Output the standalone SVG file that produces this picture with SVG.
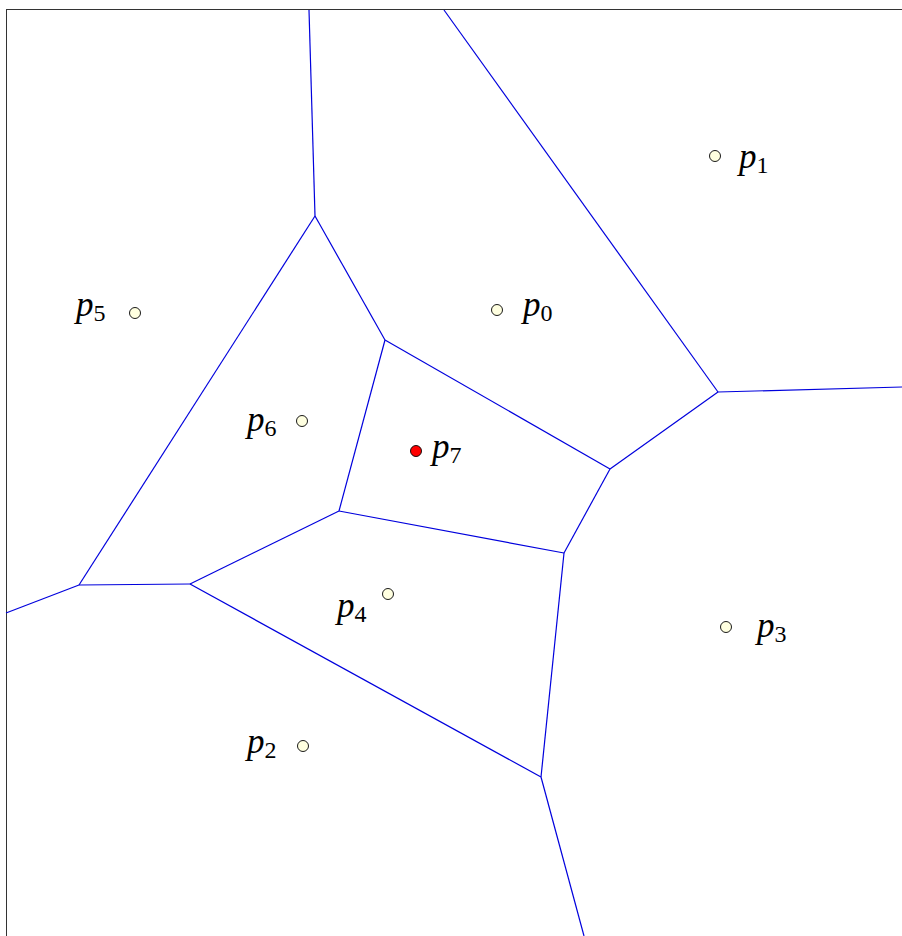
<svg xmlns="http://www.w3.org/2000/svg" width="902" height="936" viewBox="0 0 902 936">
<style>
.edge{stroke:#0000dd;stroke-width:1.2;fill:none}
.pt{fill:#ffffe0;stroke:#000;stroke-width:0.9}
.lbl{font-family:"Liberation Serif","DejaVu Serif",serif;font-style:italic;font-size:35px;fill:#000}
.sub{font-style:normal;font-size:24px}
</style>
<rect x="0" y="0" width="902" height="936" fill="#fff"/>
<rect x="6.5" y="9.5" width="1000" height="1000" fill="none" stroke="#333" stroke-width="1"/>
<g id="connectors">
<line class="edge" x1="309" y1="10" x2="315" y2="216"/>
<line class="edge" x1="315" y1="216" x2="385" y2="340"/>
<line class="edge" x1="315" y1="216" x2="79" y2="585"/>
<line class="edge" x1="385" y1="340" x2="339" y2="511"/>
<line class="edge" x1="385" y1="340" x2="610" y2="469"/>
<line class="edge" x1="444" y1="10" x2="718" y2="392"/>
<line class="edge" x1="718" y1="392" x2="902" y2="387"/>
<line class="edge" x1="718" y1="392" x2="610" y2="469"/>
<line class="edge" x1="610" y1="469" x2="564" y2="553"/>
<line class="edge" x1="564" y1="553" x2="339" y2="511"/>
<line class="edge" x1="564" y1="553" x2="541" y2="777"/>
<line class="edge" x1="339" y1="511" x2="190" y2="584"/>
<line class="edge" x1="190" y1="584" x2="79" y2="585"/>
<line class="edge" x1="79" y1="585" x2="6" y2="613"/>
<line class="edge" x1="190" y1="584" x2="541" y2="777"/>
<line class="edge" x1="541" y1="777" x2="584" y2="936"/>
</g>
<g id="p0"><circle class="pt" cx="497" cy="310" r="5.5"/><text class="lbl" x="523" y="316">p<tspan class="sub" dy="5">0</tspan></text></g>
<g id="p1"><circle class="pt" cx="715" cy="156" r="5.5"/><text class="lbl" x="739" y="168">p<tspan class="sub" dy="5">1</tspan></text></g>
<g id="p2"><circle class="pt" cx="303" cy="746" r="5.5"/><text class="lbl" x="247" y="753">p<tspan class="sub" dy="5">2</tspan></text></g>
<g id="p3"><circle class="pt" cx="726" cy="627" r="5.5"/><text class="lbl" x="757" y="637">p<tspan class="sub" dy="5">3</tspan></text></g>
<g id="p4"><circle class="pt" cx="388" cy="594" r="5.5"/><text class="lbl" x="337" y="617">p<tspan class="sub" dy="5">4</tspan></text></g>
<g id="p5"><circle class="pt" cx="135" cy="313" r="5.5"/><text class="lbl" x="76" y="316">p<tspan class="sub" dy="5">5</tspan></text></g>
<g id="p6"><circle class="pt" cx="302" cy="421" r="5.5"/><text class="lbl" x="247" y="431">p<tspan class="sub" dy="5">6</tspan></text></g>
<g id="p7"><circle cx="416" cy="451" r="5.5" fill="#ff0000" stroke="#000" stroke-width="0.9"/><text class="lbl" x="432" y="458">p<tspan class="sub" dy="5">7</tspan></text></g>
</svg>
